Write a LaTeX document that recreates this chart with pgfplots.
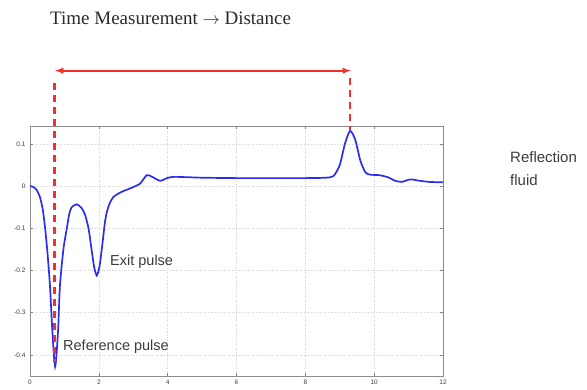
\documentclass[border=0pt]{standalone}
\usepackage{pgfplots}
\pgfplotsset{compat=1.18}
\usepackage{fontspec}
\setmainfont{Liberation Sans}
\newfontfamily\seriffont{Liberation Serif}
\definecolor{curveblue}{RGB}{45,45,235}
\definecolor{annred}{RGB}{250,45,45}
\definecolor{txtgray}{RGB}{60,60,60}
\begin{document}
\begin{tikzpicture}
\useasboundingbox (0,0) rectangle (587pt,389pt);
\begin{axis}[
  at={(30pt,13pt)}, anchor=south west,
  width=413pt, height=250pt, scale only axis,
  xmin=0, xmax=12, ymin=-0.45, ymax=0.1425,
  xtick={0,2,...,12},
  ytick={-0.4,-0.3,-0.2,-0.1,0,0.1},
  yticklabels={-0.4,-0.3,-0.2,-0.1,0,0.1},
  tick align=inside, major tick length=3pt,
  tick style={gray, line width=0.5pt},
  axis line style={gray!90, line width=0.8pt},
  grid=major, major grid style={gray!35, dotted, line width=0.6pt},
  tick label style={font=\fontsize{6.5}{7.5}\selectfont, text=txtgray},
  yticklabel style={xshift=-1pt},
  /pgf/number format/assume math mode=true,
  clip=false,
]
\addplot[curveblue, line width=1.7pt, smooth, tension=0.4] coordinates {
(0,0) (0.1,-0.002) (0.2,-0.010) (0.29,-0.026) (0.37,-0.055) (0.44,-0.10) (0.51,-0.16)
(0.58,-0.236) (0.64,-0.33) (0.69,-0.395) (0.73,-0.428) (0.77,-0.40) (0.82,-0.335)
(0.87,-0.236) (0.97,-0.15) (1.07,-0.10) (1.14,-0.066) (1.21,-0.05) (1.36,-0.043)
(1.50,-0.052) (1.60,-0.068) (1.70,-0.10) (1.78,-0.145) (1.86,-0.19) (1.94,-0.212)
(2.02,-0.19) (2.10,-0.14) (2.17,-0.09) (2.23,-0.062) (2.32,-0.040) (2.42,-0.026)
(2.65,-0.014) (2.95,-0.004) (3.2,0.006) (3.39,0.026) (3.55,0.022) (3.78,0.0125)
(3.98,0.019) (4.2,0.022) (5,0.02) (6,0.019) (7,0.019) (8,0.019) (8.6,0.02)
(8.82,0.024) (9.0,0.05) (9.15,0.1) (9.3,0.131) (9.45,0.11) (9.6,0.06) (9.75,0.032)
(9.9,0.027) (10.15,0.026) (10.4,0.021) (10.6,0.013) (10.8,0.010) (11.05,0.016)
(11.3,0.013) (11.6,0.010) (12,0.009)
};
\draw[annred, line width=2.6pt, dash pattern=on 7pt off 5pt] (axis cs:0.72,0.244) -- (axis cs:0.72,-0.418);
\draw[annred, line width=2.6pt, dash pattern=on 7pt off 5pt] (axis cs:9.3,0.256) -- (axis cs:9.3,0.132);
\draw[annred, line width=1.8pt, <->, >=latex] (axis cs:0.73,0.2736) -- (axis cs:9.32,0.2736);
\end{axis}
\node[anchor=west, inner sep=0pt, text=txtgray!70!black] at (50pt,371pt) {\seriffont\fontsize{19}{22}\selectfont Time Measurement \(\rightarrow\) Distance};
\node[anchor=west, inner sep=0pt, text=txtgray] at (510pt,232pt) {\fontsize{15}{17}\selectfont Reflection};
\node[anchor=west, inner sep=0pt, text=txtgray] at (510pt,209pt) {\fontsize{15}{17}\selectfont fluid};
\node[anchor=west, inner sep=0pt, text=txtgray] at (110pt,127pt) {\fontsize{14.5}{16}\selectfont Exit pulse};
\node[anchor=west, inner sep=0pt, text=txtgray] at (63pt,42pt) {\fontsize{14.5}{16}\selectfont Reference pulse};
\end{tikzpicture}
\end{document}
